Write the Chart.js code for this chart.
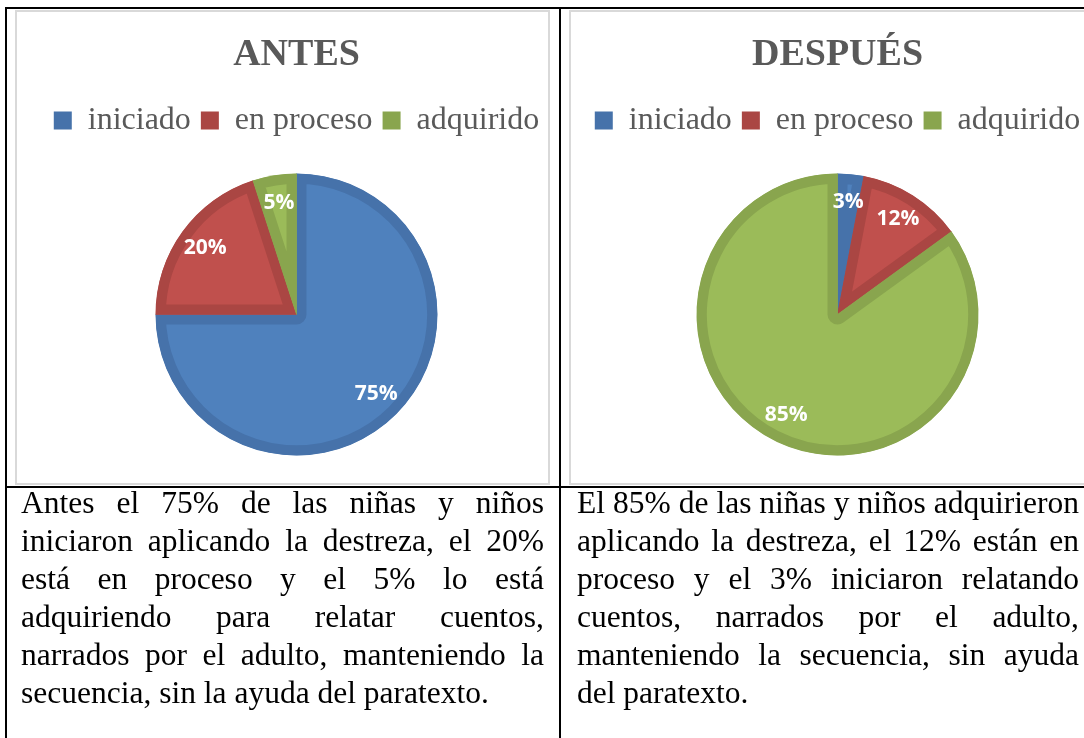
<!DOCTYPE html>
<html>
<head>
<meta charset="utf-8">
<script src="https://cdn.jsdelivr.net/npm/chart.js@4.4.1/dist/chart.umd.min.js"></script>
<style>
  html, body { margin: 0; padding: 0; background: #fff; }
  body { width: 1084px; height: 738px; position: relative; overflow: hidden; }
  .rule { position: absolute; background: #000; }
  .frame { position: absolute; border: 2px solid #d9d9d9; box-sizing: border-box; }
  .box { position: absolute; }
  .note {
    position: absolute;
    font-family: "Liberation Serif", "Times New Roman", serif;
    font-size: 31.5px;
    line-height: 38px;
    text-align: justify;
    color: #000;
  }
</style>
</head>
<body>
<div class="frame" style="left:15px;top:10px;width:535px;height:475px"></div>
<div class="frame" style="left:569px;top:10px;width:540px;height:475px"></div>

<div class="box" style="left:31px;top:12px"><canvas id="antes" width="531" height="500"></canvas></div>
<div class="box" style="left:572px;top:12px"><canvas id="despues" width="531" height="500"></canvas></div>

<div class="rule" style="left:5px;top:7px;width:1079px;height:2px"></div>
<div class="rule" style="left:5px;top:7px;width:2px;height:731px"></div>
<div class="rule" style="left:559px;top:7px;width:2px;height:731px"></div>
<div class="rule" style="left:5px;top:486px;width:1079px;height:2px"></div>

<div class="note" style="left:21px;top:484px;width:523px">Antes el 75% de las niñas y niños iniciaron aplicando la destreza, el 20% está en proceso y el 5% lo está adquiriendo para relatar cuentos, narrados por el adulto, manteniendo la secuencia, sin la ayuda del paratexto.</div>
<div class="note" style="left:577px;top:484px;width:502px">El 85% de las niñas y niños adquirieron aplicando la destreza, el 12% están en proceso y el 3% iniciaron relatando cuentos, narrados por el adulto, manteniendo la secuencia, sin ayuda del paratexto.</div>

<script>
const categories = ['iniciado', 'en proceso', 'adquirido'];
const antesValues = [75, 20, 5];
const despuesValues = [3, 12, 85];

const fills = ['#4f81bd', '#c0504d', '#9bbb59'];
const edges = ['#4672aa', '#aa4643', '#89a54e'];

// percentage text on each slice, placed along the slice's middle angle
const sliceLabels = {
  id: 'sliceLabels',
  afterDatasetsDraw(chart) {
    const ctx = chart.ctx;
    const meta = chart.getDatasetMeta(0);
    const values = chart.data.datasets[0].data;
    ctx.save();
    ctx.font = 'bold 21px "Open Sans"';
    ctx.fillStyle = '#ffffff';
    ctx.textAlign = 'center';
    ctx.textBaseline = 'middle';
    meta.data.forEach((arc, i) => {
      const p = arc.getProps(['x', 'y', 'startAngle', 'endAngle', 'outerRadius'], true);
      const mid = (p.startAngle + p.endAngle) / 2;
      const r = p.outerRadius * 0.8;
      ctx.fillText(values[i] + '%', p.x + Math.cos(mid) * r, p.y + Math.sin(mid) * r);
    });
    ctx.restore();
  }
};

function makePie(id, title, values) {
  new Chart(document.getElementById(id), {
    type: 'pie',
    plugins: [sliceLabels],
    data: {
      labels: categories,
      datasets: [{
        data: values,
        backgroundColor: fills,
        borderColor: edges,
        borderWidth: 10,
        borderAlign: 'inner',
        radius: 141
      }]
    },
    options: {
      responsive: false,
      animation: false,
      layout: { padding: { left: 0, right: 0, top: 3, bottom: 29.6 } },
      plugins: {
        title: {
          display: true,
          text: title,
          color: '#595959',
          font: { family: 'Liberation Serif', size: 38, weight: 'bold' },
          padding: { top: 17, bottom: 17 }
        },
        legend: {
          position: 'top',
          labels: {
            color: '#595959',
            font: { family: 'Liberation Serif', size: 32 },
            boxWidth: 18,
            boxHeight: 18,
            padding: 10,
            generateLabels: () => categories.map((c, i) => ({
              text: c,
              fillStyle: edges[i],
              strokeStyle: edges[i],
              lineWidth: 0,
              fontColor: '#595959',
              hidden: false,
              index: i
            }))
          }
        },
        tooltip: { enabled: false }
      }
    }
  });
}

makePie('antes', 'ANTES', antesValues);
makePie('despues', 'DESPUÉS', despuesValues);
</script>
</body>
</html>
